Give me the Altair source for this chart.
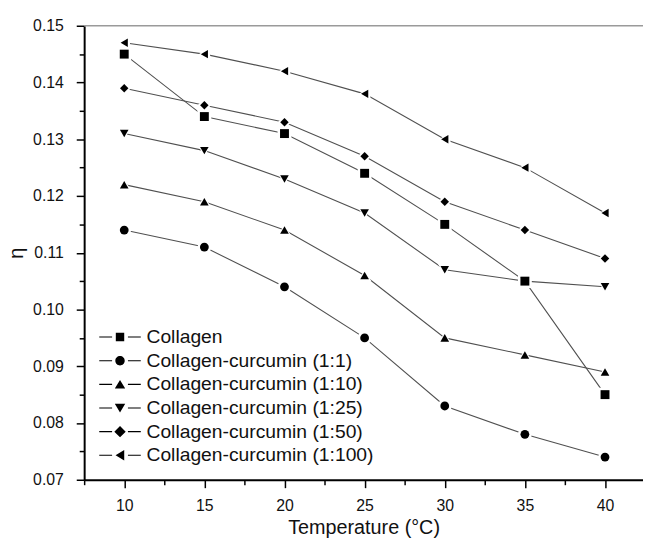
import altair as alt
import pandas as pd

# ---- data ----
temps = [10, 15, 20, 25, 30, 35, 40]
series_names = [
    "Collagen",
    "Collagen-curcumin (1:1)",
    "Collagen-curcumin (1:10)",
    "Collagen-curcumin (1:25)",
    "Collagen-curcumin (1:50)",
    "Collagen-curcumin (1:100)",
]
collagen = [0.145, 0.134, 0.131, 0.124, 0.115, 0.105, 0.085]
cc_1_1 = [0.114, 0.111, 0.104, 0.095, 0.083, 0.078, 0.074]
cc_1_10 = [0.122, 0.119, 0.114, 0.106, 0.095, 0.092, 0.089]
cc_1_25 = [0.131, 0.128, 0.123, 0.117, 0.107, 0.105, 0.104]
cc_1_50 = [0.139, 0.136, 0.133, 0.127, 0.119, 0.114, 0.109]
cc_1_100 = [0.147, 0.145, 0.142, 0.138, 0.130, 0.125, 0.117]
all_series = [collagen, cc_1_1, cc_1_10, cc_1_25, cc_1_50, cc_1_100]

x_tick_values = [7.5, 10, 12.5, 15, 17.5, 20, 22.5, 25, 27.5, 30, 32.5, 35, 37.5, 40]
y_tick_values = [0.07, 0.075, 0.08, 0.085, 0.09, 0.095, 0.10, 0.105, 0.11,
                 0.115, 0.12, 0.125, 0.13, 0.135, 0.14, 0.145, 0.15]

rows = []
for name, vals in zip(series_names, all_series):
    for t, v in zip(temps, vals):
        rows.append({"series": name, "temp": t, "eta": v})
df = pd.DataFrame(rows)

# ---- styles ----
shapes = ["square", "circle", "triangle-up", "triangle-down", "diamond", "triangle-left"]
sizes = [81, 71, 121, 121, 132, 121]
halo_sizes = [(s ** 0.5 + 5) ** 2 for s in sizes]
# legend symbols: short line stubs on both sides of the marker (all filled)
stub = "M-4.2,-0.11H-1.6V0.11H-4.2ZM1.6,-0.11H4.2V0.11H1.6Z"
legend_paths = [
    stub + "M-0.85,-0.85H0.85V0.85H-0.85Z",
    stub + "M-0.95,0A0.95,0.95,0,1,1,0.95,0A0.95,0.95,0,1,1,-0.95,0Z",
    stub + "M0,-0.9L1.05,0.85L-1.05,0.85Z",
    stub + "M0,0.9L1.05,-0.85L-1.05,-0.85Z",
    stub + "M0,-1.15L1.15,0L0,1.15L-1.15,0Z",
    stub + "M-0.9,0L0.85,-1.05L0.85,1.05Z",
]

FONT = "Liberation Sans"
W, H = 565, 459

x_enc = alt.X(
    "temp:Q",
    scale=alt.Scale(domain=[7.5, 42.37], nice=False, zero=False),
    axis=alt.Axis(
        values=x_tick_values,
        labelExpr="datum.value % 5 == 0 ? datum.label : ''",
        title="Temperature (°C)",
        tickSize={"condition": {"test": "datum.value % 5 == 0", "value": 8}, "value": 5},
        tickWidth=1.5,
        tickColor="black",
        domainColor="black",
        domainWidth=2,
        labelFont=FONT,
        labelFontSize=16,
        labelColor="#111",
        labelPadding=10.5,
        titleFont=FONT,
        titleFontSize=20,
        titleFontWeight="normal",
        titleColor="#111",
        titlePadding=4,
        grid=False,
    ),
)
y_enc = alt.Y(
    "eta:Q",
    scale=alt.Scale(domain=[0.07, 0.15], nice=False, zero=False),
    axis=alt.Axis(
        values=y_tick_values,
        labelExpr="abs(round(datum.value * 1000)) % 10 == 0 ? format(datum.value, '.2f') : ''",
        title="η",
        tickSize={"condition": {"test": "abs(round(datum.value * 1000)) % 10 == 0", "value": 8}, "value": 5},
        tickWidth=1.5,
        tickColor="black",
        domainColor="black",
        domainWidth=2,
        labelFont=FONT,
        labelFontSize=16,
        labelColor="#111",
        labelPadding=13,
        titleFont=FONT,
        titleFontSize=20,
        titleFontWeight="normal",
        titleColor="#111",
        titlePadding=6,
        grid=False,
    ),
)

base = alt.Chart(df)

lines = base.mark_line(color="#505050", strokeWidth=1.1).encode(
    x=x_enc, y=y_enc, detail="series:N"
)

halo = base.mark_point(filled=True, color="white", opacity=1).encode(
    x=x_enc,
    y=y_enc,
    shape=alt.Shape("series:N", scale=alt.Scale(domain=series_names, range=shapes), legend=None),
    size=alt.Size("series:N", scale=alt.Scale(domain=series_names, range=halo_sizes), legend=None),
)

marks = base.mark_point(filled=True, color="black", opacity=1).encode(
    x=x_enc,
    y=y_enc,
    shape=alt.Shape("series:N", scale=alt.Scale(domain=series_names, range=shapes), legend=None),
    size=alt.Size("series:N", scale=alt.Scale(domain=series_names, range=sizes), legend=None),
)

legend_layer = base.transform_filter("false").mark_point(
    filled=True, color="black", opacity=1
).encode(
    x=x_enc,
    y=y_enc,
    shape=alt.Shape(
        "series:N",
        scale=alt.Scale(domain=series_names, range=legend_paths),
        legend=alt.Legend(
            title=None,
            orient="none",
            legendX=26.5,
            legendY=305,
            padding=0,
            labelFont=FONT,
            labelFontSize=19.5,
            labelColor="#111",
            labelOffset=17,
            labelLimit=400,
            rowPadding=2.9,
            symbolSize=100,
            symbolStrokeWidth=0,
            symbolFillColor="black",
        ),
    ),
)

top_line = alt.Chart(pd.DataFrame({"k": [0]})).mark_rule(color="#9a9a9a", strokeWidth=1.5).encode(
    x=alt.value(0), x2=alt.value(W), y=alt.value(0)
)

chart = (
    alt.layer(top_line, lines, halo, marks, legend_layer)
    .resolve_scale(shape="independent", size="independent")
    .properties(
        width=W,
        height=H,
        autosize=alt.AutoSizeParams(type="none"),
        padding={"left": 77, "top": 15, "right": 0, "bottom": 62},
        background="white",
    )
    .configure_view(stroke=None)
)

chart.save("out.html", embed_options={"renderer": "svg", "actions": False})
